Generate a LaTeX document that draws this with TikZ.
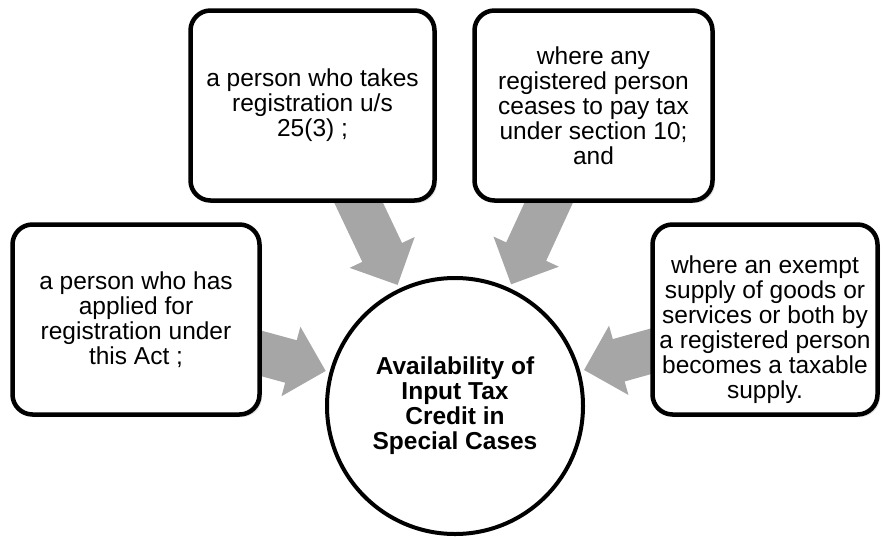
\documentclass[tikz,border=0pt]{standalone}
\usepackage{fontspec}
\setmainfont{Liberation Sans}
\usetikzlibrary{calc,shadows,backgrounds}
\definecolor{arrowgray}{RGB}{166,166,166}

\begin{document}
\begin{tikzpicture}[x=1pt, y=-1pt,
    casebox/.style={draw, line width=4.5pt, rounded corners=20pt, fill=white, align=center,
        inner sep=0pt, minimum height=190pt, font=\fontsize{24.5}{25}\selectfont,
        drop shadow={shadow xshift=2.5pt, shadow yshift=-2.5pt, opacity=.25}},
    hubcircle/.style={draw, circle, line width=4pt, fill=white, minimum size=256pt, inner sep=0pt,
        align=center, font=\fontsize{24.5}{25}\selectfont\bfseries}]
    \useasboundingbox (0,0) rectangle (883,536);

    % centre
    \node[hubcircle] (hub) at (455,406) {Availability of\\Input Tax\\Credit in\\Special Cases};

    % the four special cases
    \node[casebox, minimum width=247pt] (applied) at (136,319.5)
        {a person who has\\applied for\\registration under\\this Act ;};
    \node[casebox, minimum width=244pt] (takes) at (312.5,105.5)
        {a person who takes\\registration u/s\\25(3) ;};
    \node[casebox, minimum width=238pt] (ceases) at (593.5,105.5)
        {where any\\registered person\\ceases to pay tax\\under section 10;\\and};
    \node[casebox, minimum width=225pt] (exempt) at (765,319.5)
        {\rule{0pt}{38pt}where an exempt\\supply of goods or\\services or both by\\a registered person\\becomes a taxable\\supply.};

    % block arrows towards the centre
    \begin{scope}[on background layer]
        \foreach \src in {applied, takes, ceases, exempt} {
            \path (\src) -- (hub.center) coordinate[pos=0] (s) coordinate[pos=1] (c);
            \path (\src) -- (hub) coordinate[pos=1] (t);
            \coordinate (tip) at ($(t)!4pt!(s)$);
            \coordinate (foot) at ($(s)!-20pt!(tip)$);
            \coordinate (base) at ($(tip)!36pt!(s)$);
            \fill[arrowgray] ($(foot)!22pt!90:(tip)$) -- ($(base)!22pt!-90:(foot)$)
                -- ($(base)!36pt!-90:(foot)$) -- (tip) -- ($(base)!36pt!90:(foot)$)
                -- ($(base)!22pt!90:(foot)$) -- ($(foot)!22pt!-90:(tip)$) -- cycle;
        }
    \end{scope}
\end{tikzpicture}
\end{document}
